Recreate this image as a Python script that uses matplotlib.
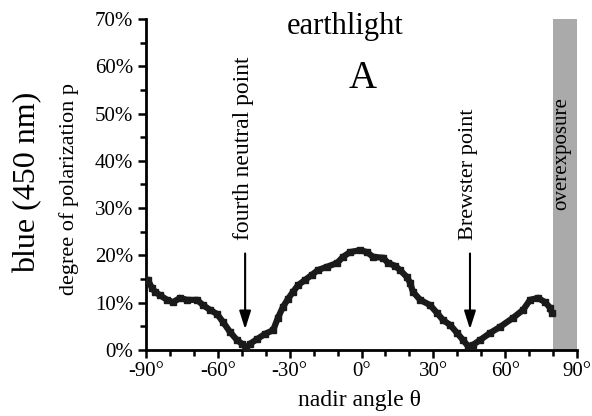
import matplotlib
matplotlib.use("Agg")
import matplotlib.pyplot as plt
from matplotlib.ticker import MultipleLocator, FuncFormatter

# ==========================================
# DATA
# ==========================================
nadir_angle = [
    -90.0, -89.2, -87.5, -86.2, -84.2, -81.2, -78.7, -75.8, -72.9, -68.7,
    -66.2, -63.3, -60.3, -57.8, -54.9, -52.0, -49.9, -48.2, -46.6, -43.6,
    -40.3, -36.9, -34.9, -32.8, -30.7, -28.6, -26.5, -23.6, -20.7, -18.2,
    -14.4, -10.2, -7.7, -4.8, -0.6, 2.3, 4.8, 9.0, 11.1, 14.0,
    16.1, 19.0, 20.3, 21.5, 24.5, 28.6, 31.6, 34.1, 37.0, 39.9,
    42.4, 44.5, 46.6, 49.5, 53.7, 57.9, 63.3, 67.5, 70.4, 73.7,
    76.7, 78.8, 79.6,
]
polarization = [
    14.8, 14.8, 13.1, 12.3, 11.6, 10.6, 10.1, 11.0, 10.6, 10.6,
    9.5, 8.5, 7.6, 5.9, 3.8, 2.1, 1.3, 0.4, 1.3, 2.3,
    3.4, 4.2, 6.8, 9.1, 10.8, 12.3, 13.7, 14.8, 15.9, 16.9,
    17.6, 18.4, 19.7, 20.7, 21.1, 20.7, 19.7, 19.5, 18.4, 17.8,
    16.9, 15.4, 14.2, 12.3, 10.6, 9.5, 7.8, 6.3, 5.3, 3.6,
    2.1, 0.8, 1.1, 2.1, 3.6, 4.9, 6.8, 8.5, 10.6, 11.0,
    10.1, 8.9, 7.8,
]

OVEREXPOSED = (80, 90)
ARROWS = {  # label: (angle, arrow tip, arrow tail, fontsize)
    "fourth neutral point": (-48.6, 3.8, 21.0, 17),
    "Brewster point":       (45.3, 3.8, 21.0, 16),
}

SERIF = ["Liberation Serif", "DejaVu Serif"]
plt.rcParams["font.family"] = SERIF

# ==========================================
# PLOT
# ==========================================
fig = plt.figure(figsize=(5.92, 4.16), dpi=100)
ax = fig.add_axes([0.2466, 0.1587, 0.7281, 0.7956])

ax.axvspan(*OVEREXPOSED, color="#aaaaaa", lw=0, zorder=0)
ax.plot(nadir_angle, polarization, color="#1a1a1a", lw=4.5,
        marker="s", ms=5, solid_joinstyle="miter", zorder=3)

for label, (x, tip, tail, size) in ARROWS.items():
    ax.annotate("", xy=(x, tip), xytext=(x, tail),
                arrowprops=dict(arrowstyle="-|>,head_width=0.35,head_length=1.1",
                                color="black", lw=1.5))
    ax.text(x - 0.8, 23.2, label, rotation=90, ha="center", va="bottom",
            fontsize=size)

ax.text(83.8, 53.5, "overexposure", rotation=90, ha="center", va="top",
        fontsize=15)
ax.text(-7, 68.5, "earthlight", ha="center", va="center", fontsize=22)
ax.text(0.5, 57.5, "A", ha="center", va="center", fontsize=28)

ax.set_xlim(-90, 90)
ax.set_ylim(0, 70)
ax.xaxis.set_major_locator(MultipleLocator(30))
ax.xaxis.set_minor_locator(MultipleLocator(10))
ax.yaxis.set_major_locator(MultipleLocator(10))
ax.yaxis.set_minor_locator(MultipleLocator(5))
ax.xaxis.set_major_formatter(FuncFormatter(lambda v, _: f"{v:.0f}\u00b0"))
ax.yaxis.set_major_formatter(FuncFormatter(lambda v, _: f"{v:.0f}%"))
ax.tick_params(which="both", direction="out", width=1.8, labelsize=15)
ax.tick_params(which="major", length=6, pad=3)
ax.tick_params(which="minor", length=4)
for side in ("top", "right"):
    ax.spines[side].set_visible(False)
for side in ("left", "bottom"):
    ax.spines[side].set_linewidth(2)

fig.text(0.1166, 0.545, "degree of polarization p", rotation=90,
         ha="center", va="center", fontsize=16)
fig.text(0.047, 0.562, "blue (450 nm)", rotation=90,
         ha="center", va="center", fontsize=23)
fig.text(0.608, 0.038, "nadir angle \u03b8", ha="center", va="center",
         fontsize=17)

fig.savefig("out.png", dpi=100)
